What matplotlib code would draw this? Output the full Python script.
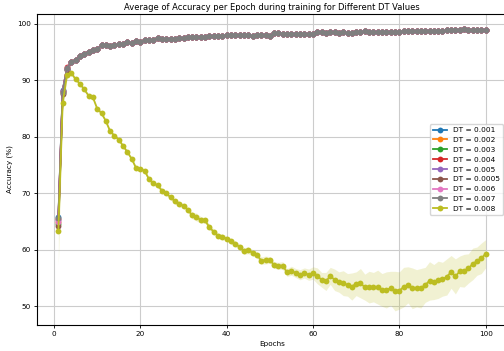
import matplotlib
matplotlib.use("Agg")
import matplotlib.pyplot as plt
import numpy as np

epochs = np.arange(1, 101)

dt_labels = ["DT = 0.001", "DT = 0.002", "DT = 0.003", "DT = 0.004", "DT = 0.005",
             "DT = 0.0005", "DT = 0.006", "DT = 0.007"]

# first three epochs differ a little between the small DT runs
small_dt_start = [
    [65.8, 88.3, 92.1],
    [65.0, 88.0, 92.2],
    [64.5, 87.8, 92.0],
    [65.5, 88.1, 92.3],
    [65.2, 88.2, 92.1],
    [64.2, 87.6, 91.9],
    [65.0, 88.0, 92.2],
    [65.6, 88.0, 92.2],
]

# epochs 4..100, practically identical for all small DT runs
small_dt_rest = [
    93.2, 93.6, 94.3, 94.6, 95.1, 95.4, 95.5, 96.3, 96.2, 96.0,
    96.3, 96.4, 96.5, 96.8, 96.6, 96.9, 96.8, 97.1, 97.2, 97.1,
    97.5, 97.3, 97.3, 97.4, 97.4, 97.5, 97.5, 97.6, 97.7, 97.6,
    97.6, 97.7, 97.8, 97.8, 97.8, 97.9, 98.0, 98.0, 98.1, 98.0,
    98.0, 98.0, 97.9, 98.0, 98.0, 98.0, 97.9, 98.4, 98.4, 98.3,
    98.3, 98.3, 98.2, 98.3, 98.2, 98.2, 98.3, 98.5, 98.5, 98.4,
    98.5, 98.5, 98.4, 98.5, 98.4, 98.4, 98.5, 98.6, 98.7, 98.6,
    98.6, 98.6, 98.5, 98.6, 98.6, 98.6, 98.6, 98.8, 98.8, 98.8,
    98.7, 98.7, 98.7, 98.8, 98.8, 98.8, 98.7, 98.9, 98.9, 99.0,
    99.0, 99.1, 99.0, 98.9, 98.9, 98.9, 98.9,
]
small_dt_ci = [1.5, 1.0, 0.4] + [0.15] * 97

acc_008 = [
    63.4, 86.0, 90.9, 91.3, 90.2, 89.4, 88.4, 87.3, 87.0, 85.0,
    84.2, 82.8, 81.0, 80.2, 79.5, 78.4, 77.3, 76.1, 74.5, 74.3,
    74.0, 72.5, 71.8, 71.4, 70.5, 70.0, 69.3, 68.6, 68.1, 67.8,
    67.1, 66.1, 65.8, 65.3, 65.2, 64.0, 63.2, 62.5, 62.3, 62.0,
    61.5, 61.1, 60.5, 59.8, 59.9, 59.5, 59.1, 58.1, 58.2, 58.2,
    57.3, 57.2, 57.2, 56.0, 56.3, 55.9, 55.6, 55.9, 55.6, 55.9,
    55.4, 54.7, 54.4, 55.4, 54.7, 54.3, 54.1, 53.8, 53.5, 54.0,
    54.1, 53.4, 53.4, 53.4, 53.4, 52.9, 52.9, 53.2, 52.7, 52.8,
    53.4, 53.8, 53.2, 53.2, 53.2, 53.8, 54.5, 54.3, 54.7, 54.8,
    55.2, 56.1, 55.3, 56.2, 56.3, 56.7, 57.5, 58.0, 58.5, 59.3,
]
ci_008 = [
    6.0, 1.5, 0.6, 0.4, 0.3, 0.3, 0.3, 0.3, 0.3, 0.3,
    0.3, 0.35, 0.3, 0.3, 0.35, 0.3, 0.3, 0.35, 0.3, 0.35,
    0.4, 0.35, 0.4, 0.45, 0.4, 0.4, 0.45, 0.4, 0.5, 0.45,
    0.5, 0.6, 0.7, 0.6, 0.5, 0.5, 0.5, 0.45, 0.5, 0.5,
    0.5, 0.5, 0.55, 0.6, 0.6, 0.55, 0.6, 0.65, 0.7, 0.6,
    0.6, 0.6, 0.7, 0.7, 0.8, 0.8, 0.9, 0.9, 1.0, 1.1,
    1.4, 1.3, 1.6, 1.5, 1.9, 1.8, 2.2, 2.0, 2.4, 2.1,
    2.6, 2.3, 2.8, 2.6, 3.0, 2.9, 3.2, 3.0, 3.5, 3.3,
    3.5, 3.2, 3.6, 3.3, 3.5, 3.1, 3.4, 3.1, 3.3, 3.0,
    3.2, 2.9, 3.1, 2.7, 2.9, 2.6, 2.8, 2.5, 2.7, 2.5,
]

fig = plt.figure(figsize=(5.04, 3.51), dpi=100)
ax = fig.add_axes([0.0734, 0.0741, 0.9325, 0.886])

def draw(y, ci, color, label):
    y = np.array(y)
    ci = np.array(ci)
    ax.fill_between(epochs, y - ci, y + ci, color=color, alpha=0.2, linewidth=0)
    ax.plot(epochs, y, color=color, marker="o", markersize=4.2,
            markeredgewidth=0, linewidth=1.3, label=label)

for i in range(len(dt_labels)):
    draw(small_dt_start[i] + small_dt_rest, small_dt_ci, "C%d" % i, dt_labels[i])
draw(acc_008, ci_008, "C8", "DT = 0.008")

ax.set_xlim(-3.95, 104.95)
ax.set_xticks([0, 20, 40, 60, 80, 100])
ax.set_yticks([50, 60, 70, 80, 90, 100])
ax.grid(True, color="#cccccc", linewidth=0.8)
ax.set_axisbelow(True)
ax.tick_params(labelsize=5.2, length=2.5, width=0.6, pad=2)
for s in ax.spines.values():
    s.set_linewidth(0.8)
ax.set_title("Average of Accuracy per Epoch during training for Different DT Values", fontsize=6, pad=3)
ax.set_xlabel("Epochs", fontsize=5.2, labelpad=3)
ax.set_ylabel("Accuracy (%)", fontsize=5.2, labelpad=3)
ax.legend(loc="center right", fontsize=5.3, handlelength=2.0)

fig.savefig("out.png", dpi=100)
